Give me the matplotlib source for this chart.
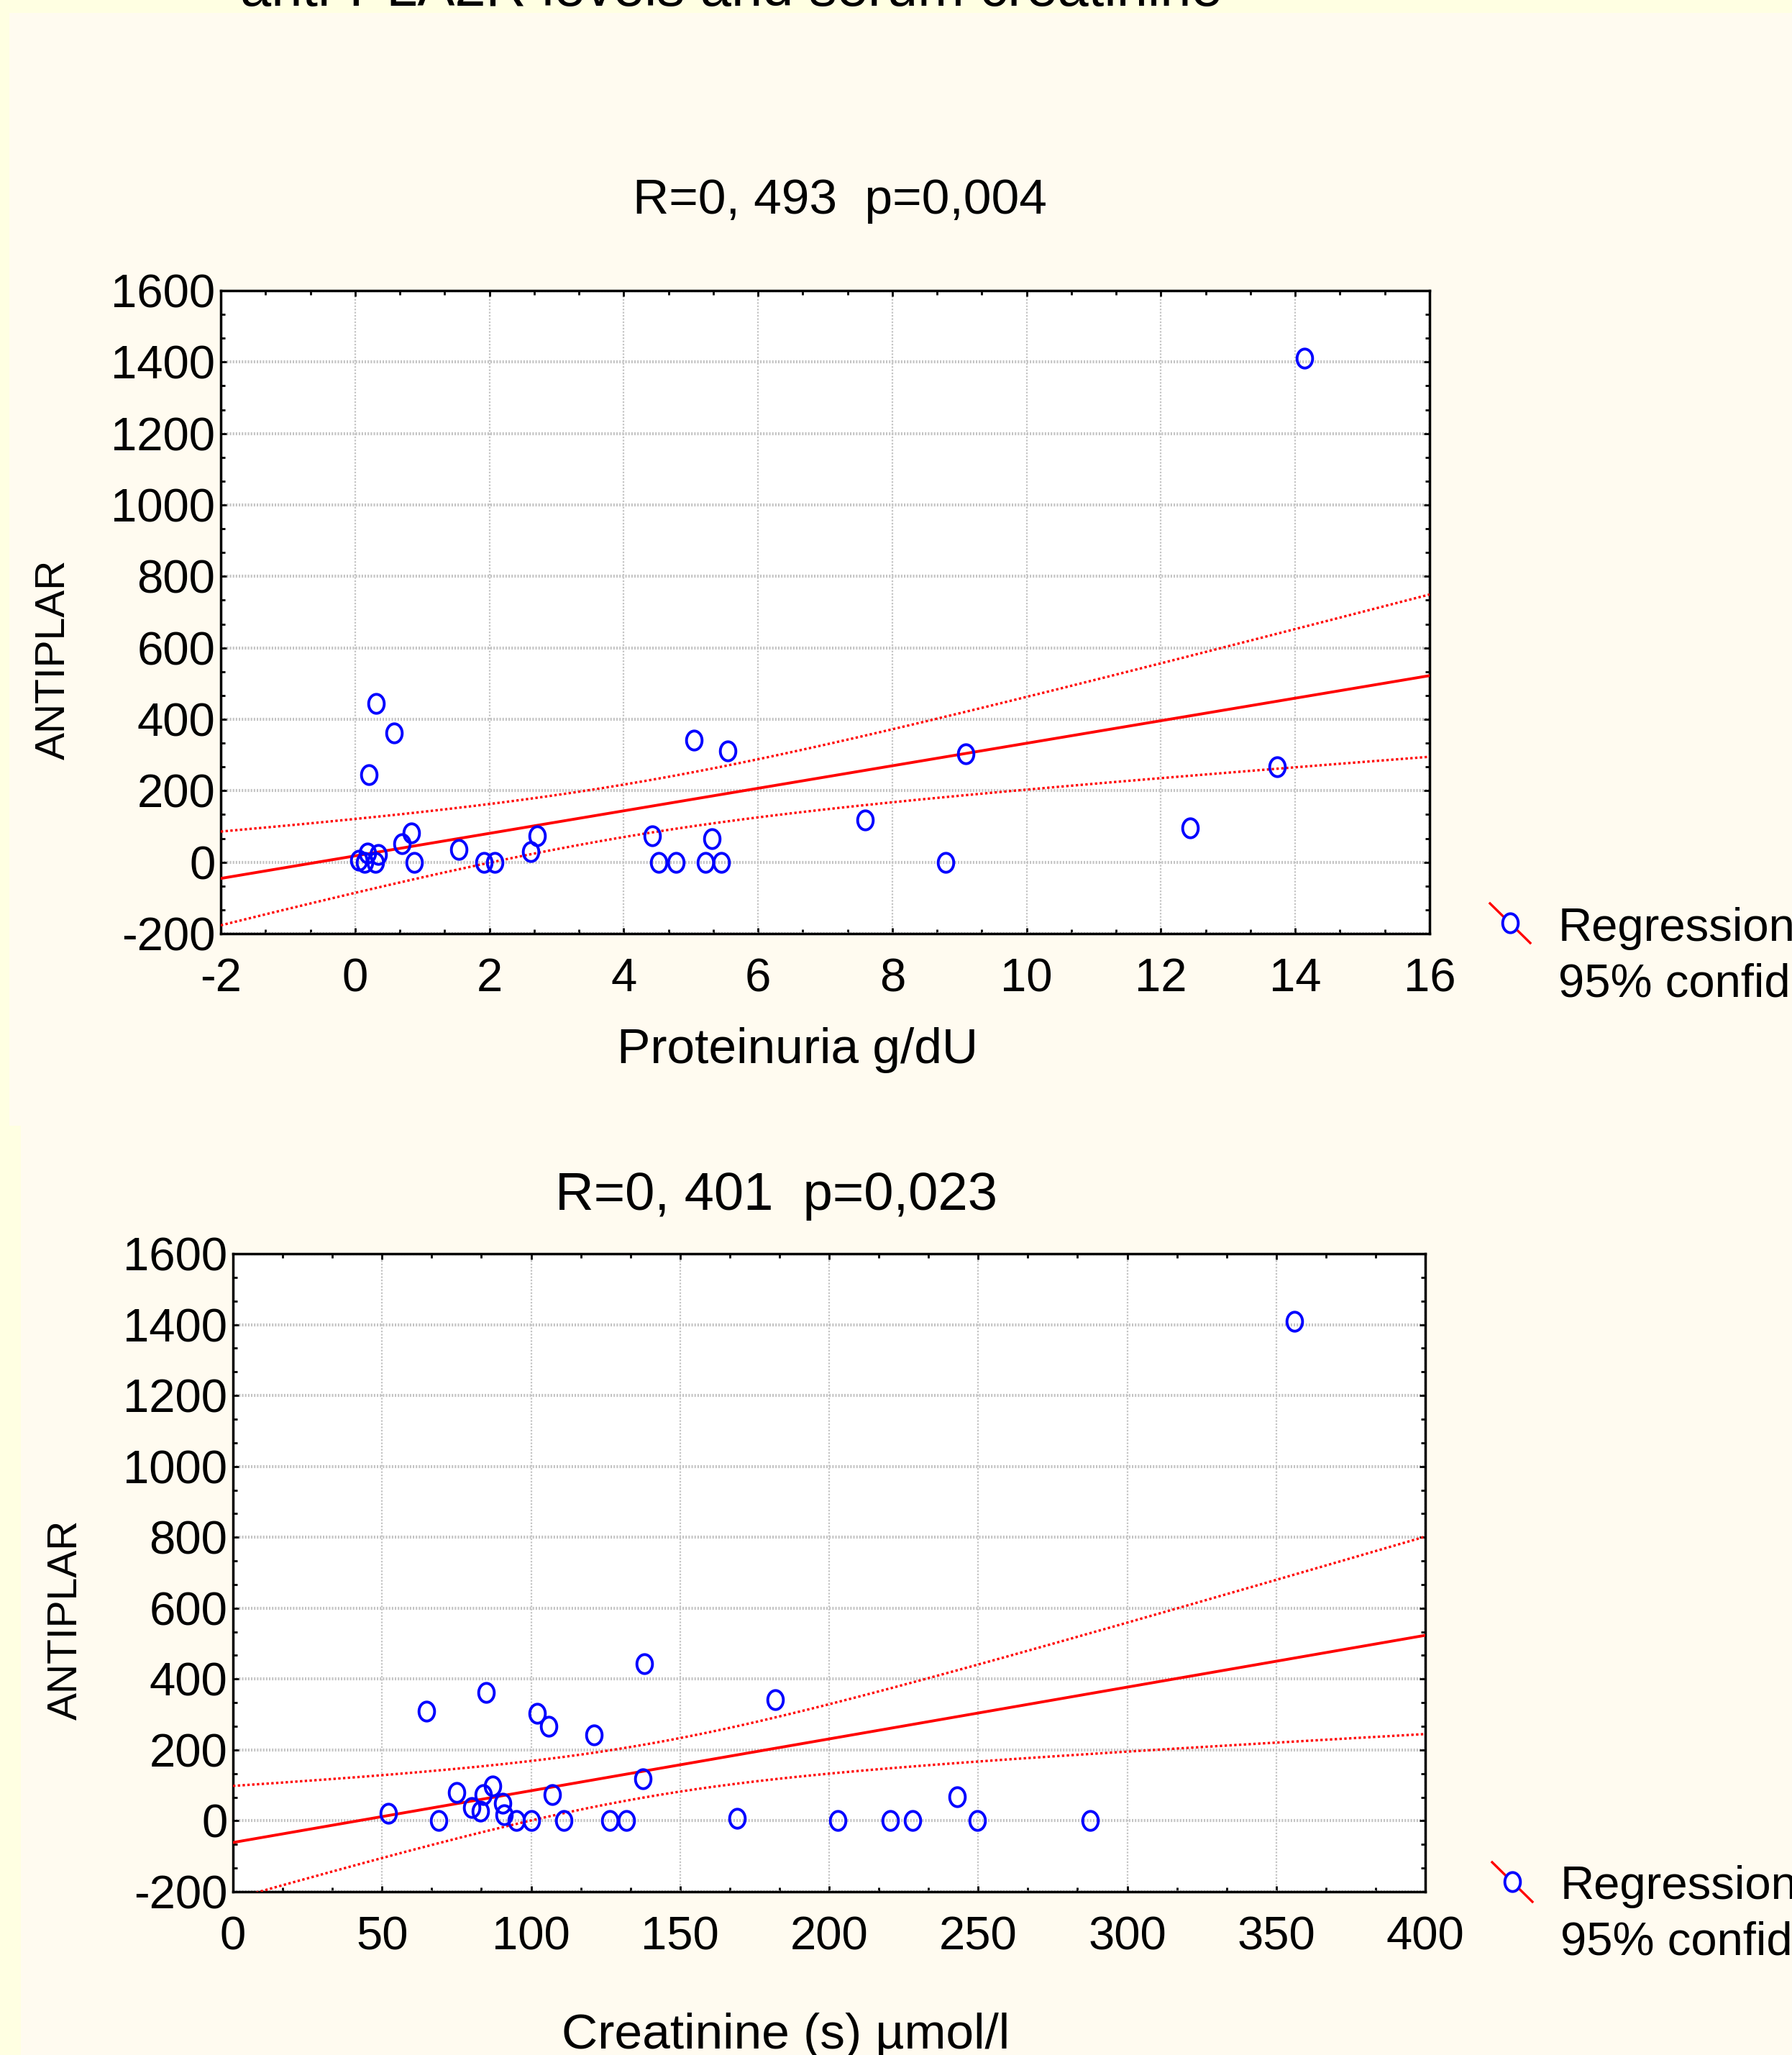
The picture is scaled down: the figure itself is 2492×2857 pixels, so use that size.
import numpy as np
import matplotlib
matplotlib.use('Agg')
import matplotlib.pyplot as plt
from matplotlib.ticker import MultipleLocator, AutoMinorLocator
from matplotlib.path import Path
from matplotlib.lines import Line2D
from matplotlib.patches import Rectangle

plt.rcParams['font.family'] = ['Liberation Sans', 'DejaVu Sans']
plt.rcParams['axes.unicode_minus'] = False

# ---------------- data ----------------
prot_x = [14.14, 0.31, 0.58, 0.21, 5.05, 5.55, 9.09, 13.73, 7.59, 12.43, 8.79,
          4.42, 5.31, 4.52, 4.78, 5.22, 5.45, 2.71, 2.61, 1.54, 1.92, 2.08,
          0.84, 0.70, 0.88, 0.35, 0.30, 0.18, 0.14, 0.06]
prot_y = [1410, 445, 362, 244, 341, 311, 304, 267, 118, 96, 0,
          73, 66, 0, 0, 0, 0, 73, 29, 36, 0, 0,
          81, 51, 0, 21, 0, 26, 0, 5]

creat_x = [356, 138, 85, 65, 102, 106, 121, 182, 137.5, 75, 84, 87, 107, 243,
           52, 80, 83, 90.5, 91, 69, 95, 100, 111, 126.5, 132, 169, 203,
           220.6, 228, 249.6, 287.6]
creat_y = [1410, 444, 363, 310, 303, 267, 243, 341, 118, 81, 74, 98, 74, 68,
           21, 37, 27, 50, 18, 0, 0, 0, 0, 0, 0, 6, 0,
           0, 0, 0, 0]

top_title = "R=0, 493  p=0,004"
bot_title = "R=0, 401  p=0,023"
top_xlabel = "Proteinuria g/dU"
bot_xlabel = "Creatinine (s) µmol/l"
ylabel = "ANTIPLAR"
slide_title = "anti-PLA2R levels and serum creatinine"
legend_labels = ["Regression", "95% confid."]

W, H = 2492, 2857
fig = plt.figure(figsize=(W / 100, H / 100), dpi=100)
fig.patch.set_facecolor('#FFFFE2')

def fx(x):
    return x / W

def fy(y):
    return 1 - y / H

# slide panels
fig.add_artist(Rectangle((fx(13), fy(1565)), fx(W - 13), (1565 - 18) / H,
                         transform=fig.transFigure, facecolor='#FFFBF0',
                         edgecolor='none', zorder=0))
fig.add_artist(Rectangle((fx(29), 0), fx(W - 29), (H - 1565) / H,
                         transform=fig.transFigure, facecolor='#FFFBF0',
                         edgecolor='none', zorder=0))

FS = 47
theta = np.linspace(0, 2 * np.pi, 80)
ell = Path(np.column_stack([0.82 * np.cos(theta), np.sin(theta)]), closed=True)
MS = 19
MEW = 2.8

def regression(x, y, xs, k=1.645):
    x = np.asarray(x, float)
    y = np.asarray(y, float)
    n = len(x)
    b, a = np.polyfit(x, y, 1)
    yhat = a + b * xs
    resid = y - (a + b * x)
    s = np.sqrt(np.sum(resid ** 2) / (n - 2))
    sxx = np.sum((x - x.mean()) ** 2)
    se = s * np.sqrt(1 / n + (xs - x.mean()) ** 2 / sxx)
    return yhat, yhat - k * se, yhat + k * se

def make_axes(rect, x, y, xlim, xmaj):
    ax = fig.add_axes(rect)
    ax.set_facecolor('white')
    ax.set_xlim(xlim)
    ax.set_ylim(-200, 1600)
    ax.xaxis.set_major_locator(MultipleLocator(xmaj))
    ax.yaxis.set_major_locator(MultipleLocator(200))
    ax.xaxis.set_minor_locator(AutoMinorLocator(3))
    ax.yaxis.set_minor_locator(AutoMinorLocator(3))
    ax.tick_params(which='both', direction='in', top=True, right=True,
                   width=2, colors='black')
    ax.tick_params(which='major', length=6)
    ax.tick_params(which='minor', length=4)
    ax.tick_params(axis='x', which='major', labelsize=FS, pad=24)
    ax.tick_params(axis='y', which='major', labelsize=FS, pad=5.5)
    for s in ax.spines.values():
        s.set_linewidth(2.5)
    ax.yaxis.grid(True, which='major', color='#c4c4c4', linestyle=(0, (0.5, 0.5)),
                  linewidth=3.0)
    ax.xaxis.grid(True, which='major', color='#c4c4c4', linestyle=(0, (1, 1)),
                  linewidth=1.6)
    ax.set_axisbelow(True)
    xs = np.linspace(xlim[0], xlim[1], 200)
    yh, lo, hi = regression(x, y, xs)
    ax.plot(xs, yh, color='#ff0000', lw=2.8, zorder=3)
    ax.plot(xs, lo, color='#ff0000', lw=2.4, ls=(0, (1, 1)), zorder=3)
    ax.plot(xs, hi, color='#ff0000', lw=2.4, ls=(0, (1, 1)), zorder=3)
    ax.plot(x, y, ls='none', marker=ell, markersize=MS, markerfacecolor='none',
            markeredgecolor='#0000ff', markeredgewidth=MEW, zorder=4,
            clip_on=False)
    return ax

# top axes: px left 307, right 1988, top 404, bottom 1298
ax1 = make_axes([fx(307), fy(1298), (1988 - 307) / W, (1298 - 404) / H],
                prot_x, prot_y, (-2, 16), 2)
# bottom axes: px left 324, right 1982, top 1743, bottom 2630
ax2 = make_axes([fx(324), fy(2630), (1982 - 324) / W, (2630 - 1743) / H],
                creat_x, creat_y, (0, 400), 50)

# texts
fig.text(fx(1017), fy(8), slide_title, fontsize=56, ha='center', va='baseline')
fig.text(fx(1168), fy(297), top_title, fontsize=50, ha='center', va='baseline')
fig.text(fx(1080), fy(1682), bot_title, fontsize=53.5, ha='center', va='baseline')
fig.text(fx(1109), fy(1478), top_xlabel, fontsize=50, ha='center', va='baseline')
fig.text(fx(1093), fy(2848), bot_xlabel, fontsize=50, ha='center', va='baseline')
fig.text(fx(90), fy(917), ylabel, fontsize=41, ha='center', va='baseline',
         rotation=90, rotation_mode='anchor')
fig.text(fx(107), fy(2252), ylabel, fontsize=41, ha='center', va='baseline',
         rotation=90, rotation_mode='anchor')

# legends
def legend(cx, cy, tx, base1, base2):
    fig.add_artist(Line2D([fx(cx - 28), fx(cx + 28)], [fy(cy - 27), fy(cy + 28)],
                          transform=fig.transFigure, color='#ff0000', lw=2.4))
    fig.add_artist(Line2D([fx(cx)], [fy(cy)], transform=fig.transFigure,
                          marker=ell, markersize=MS, markerfacecolor='white',
                          markeredgecolor='#0000ff', markeredgewidth=MEW, ls='none'))
    fig.text(fx(tx), fy(base1), legend_labels[0], fontsize=FS, ha='left', va='baseline')
    fig.text(fx(tx), fy(base2), legend_labels[1], fontsize=FS, ha='left', va='baseline')

legend(2100, 1283, 2167, 1308, 1385)
legend(2103, 2616, 2170, 2640, 2717)

fig.savefig('out.png', dpi=100, facecolor=fig.get_facecolor())
